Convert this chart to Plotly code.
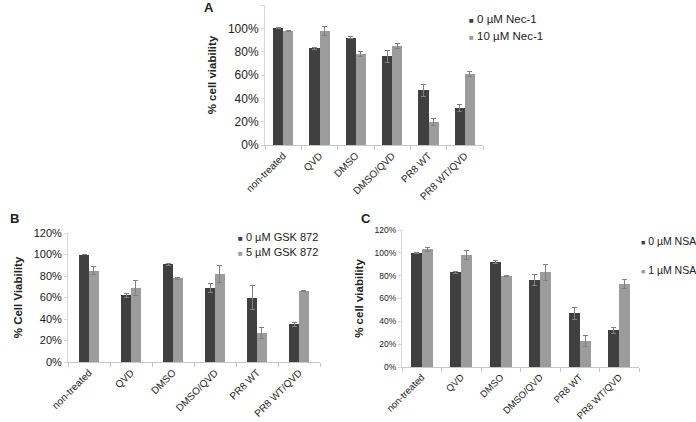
import plotly.graph_objects as go

cats = ["non-treated", "QVD", "DMSO", "DMSO/QVD", "PR8 WT", "PR8 WT/QVD"]
yticks = [0, 20, 40, 60, 80, 100, 120]
ylabels = ["0%", "20%", "40%", "60%", "80%", "100%", "120%"]

# panel A - Nec-1
a_ctrl = [100, 83, 92, 76, 47, 32]
a_ctrl_err = [0.5, 1, 1, 5, 5, 3]
a_trt = [98, 98, 78, 85, 20, 61]
a_trt_err = [0.5, 4, 2, 2, 3, 2]

# panel B - GSK 872
b_ctrl = [100, 62, 91, 69, 60, 35]
b_ctrl_err = [0.3, 2, 1, 4, 11, 2]
b_trt = [85, 69, 78, 82, 27, 66]
b_trt_err = [4, 7, 1, 8, 5, 0.5]

# panel C - NSA
c_ctrl = [100, 83, 92, 76, 47, 32]
c_ctrl_err = [0.5, 1, 1, 5, 5, 3]
c_trt = [103, 98, 79.5, 83, 23, 73]
c_trt_err = [1.5, 4, 0.5, 7, 5, 4]

DARK = "#404040"
LIGHT = "#9c9c9c"
ERR = "#808080"
FONT = "Liberation Sans, Arial, sans-serif"

W, H = 696, 422

panels = [
    # key, ctrl, err, trt, err, legend names, x domain (px), y domain (px), bar width,
    # legend x, legend y's (px), y title, y tick font, legend font, x tick font
    ("", a_ctrl, a_ctrl_err, a_trt, a_trt_err, ["0 µM Nec-1", "10 µM Nec-1"],
     (265, 483), (145, 5), 0.28, 467, (19, 36), "% cell viability", 12, 11.5, 10),
    ("2", b_ctrl, b_ctrl_err, b_trt, b_trt_err, ["0 µM GSK 872", "5 µM GSK 872"],
     (68, 320), (362, 233), 0.23, 236, (237, 252), "% Cell Viability", 11, 11, 10),
    ("3", c_ctrl, c_ctrl_err, c_trt, c_trt_err, ["0 µM NSA", "1 µM NSA"],
     (402, 639), (367, 230), 0.28, 639, (241, 270), "% cell viability", 8.5, 10.5, 9.5),
]

fig = go.Figure()
layout = {}
notes = []
for key, ctrl, ctrl_err, trt, trt_err, names, xpx, ypx, w, lx, lys, ytitle, tfs, lfs, xfs in panels:
    xa, ya = "x" + key, "y" + key
    for vals, errs, name, col, off, ly in [(ctrl, ctrl_err, names[0], DARK, -w, lys[0]),
                                            (trt, trt_err, names[1], LIGHT, 0, lys[1])]:
        fig.add_trace(go.Bar(
            x=cats, y=vals, name=name, marker_color=col, marker_line_width=0,
            width=w, offset=off, xaxis=xa, yaxis=ya, showlegend=False,
            error_y=dict(type="data", array=errs, color=ERR, thickness=1, width=2.5),
        ))
        # legend entry: small square + label
        notes.append(dict(
            text="<span style='color:%s;font-size:%dpx'>■</span> %s" % (col, lfs - 3, name),
            x=lx / W, y=1 - ly / H, xref="paper", yref="paper", xanchor="left",
            yanchor="middle", showarrow=False, font=dict(size=lfs, color="#222"),
        ))
    layout["xaxis" + key] = dict(
        domain=[xpx[0] / W, xpx[1] / W], anchor=ya, tickangle=-45, showline=True,
        linecolor="#c8c8c8", ticks="outside", tickson="boundaries", ticklen=4,
        tickcolor="#c8c8c8", tickfont=dict(size=xfs, color="#222"), showgrid=False,
        automargin=False,
    )
    layout["yaxis" + key] = dict(
        domain=[1 - ypx[0] / H, 1 - ypx[1] / H], anchor=xa, range=[0, 120],
        tickvals=yticks, ticktext=ylabels,
        showline=True, linecolor="#d8d8d8", showgrid=False,
        ticks="outside", ticklen=3, tickcolor="#d8d8d8",
        tickfont=dict(size=tfs, color="#222"), automargin=False,
        title=dict(text="<b>" + ytitle + "</b>", font=dict(size=11.5, color="#222"), standoff=8),
        zeroline=False,
    )

for lab, lx, ly in [("A", 202, 8), ("B", 8, 218), ("C", 366, 218)]:
    notes.append(dict(text="<b>%s</b>" % lab, x=lx / W, y=1 - ly / H, xref="paper",
                      yref="paper", yanchor="middle", showarrow=False, font=dict(size=13)))

fig.update_layout(
    **layout,
    width=W, height=H, margin=dict(l=0, r=0, t=0, b=0, autoexpand=False),
    plot_bgcolor="white", paper_bgcolor="white",
    font=dict(family=FONT, color="#222"),
    bargap=0, showlegend=False, annotations=notes,
)

fig.write_html("out.html", config={"displayModeBar": False},
               post_script="document.body.style.margin='0';")
